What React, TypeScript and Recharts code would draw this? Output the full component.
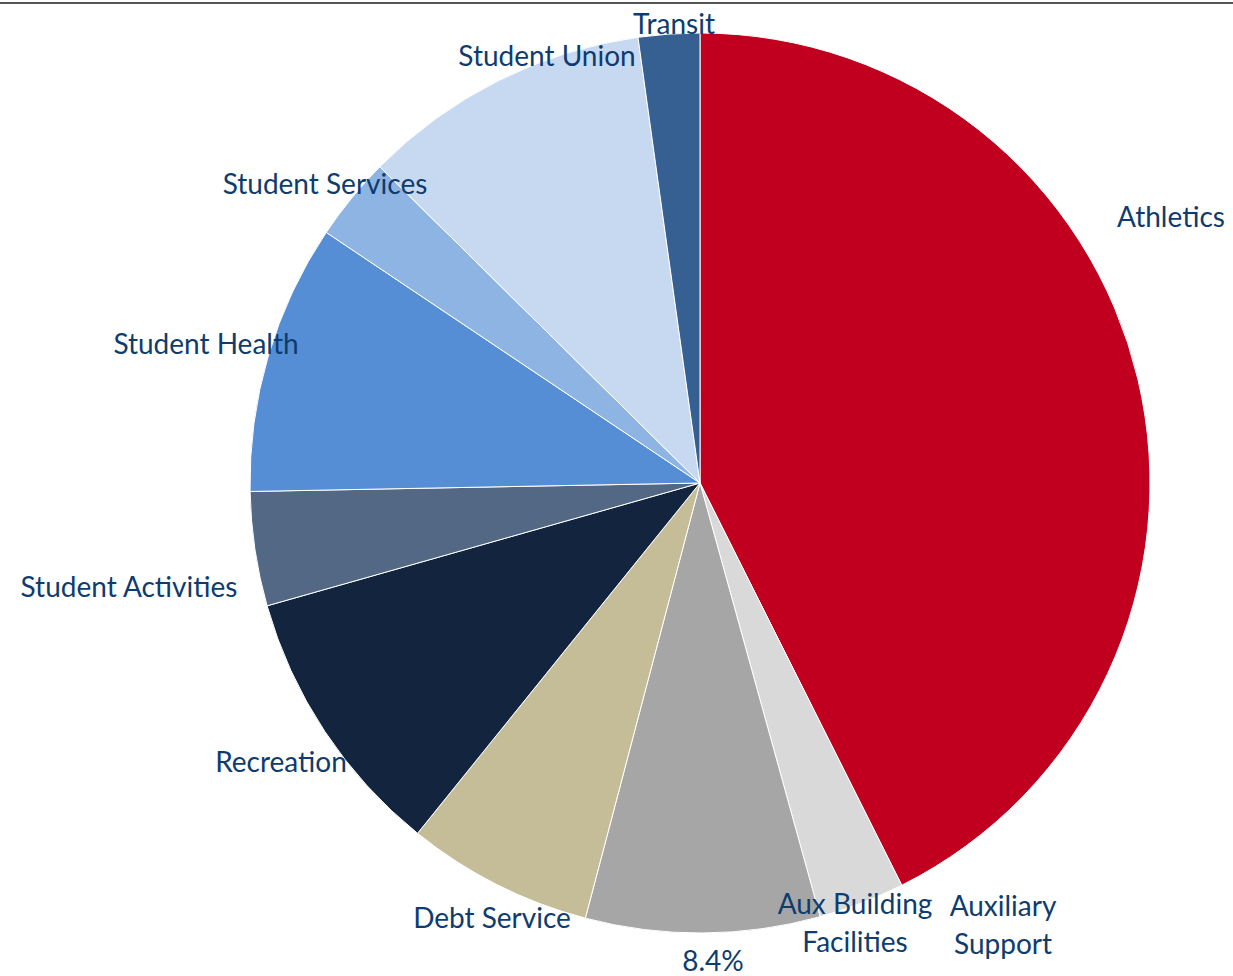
import React from "react";
import { PieChart, Pie, Cell } from "recharts";

const categories = [
  "Athletics",
  "Auxiliary Support",
  "Aux Building Facilities",
  "Debt Service",
  "Recreation",
  "Student Activities",
  "Student Health",
  "Student Services",
  "Student Union",
  "Transit",
];

// share of fees, percent
const shares = [42.6, 3.1, 8.4, 6.7, 9.8, 4.1, 9.7, 3.0, 10.4, 2.2];

// label lines, as placed in the original chart
const labelLines = [
  ["Athletics"],
  ["Auxiliary", "Support"],
  ["Aux Building", "Facilities"],
  ["Debt Service"],
  ["Recreation"],
  ["Student Activities"],
  ["Student Health"],
  ["Student Services"],
  ["Student Union"],
  ["Transit"],
];

// only this slice shows its percentage
const showPercent = [false, false, true, false, false, false, false, false, false, false];

const colors = [
  "#C0001E",
  "#D9D9D9",
  "#A6A6A6",
  "#C4BD97",
  "#12243E",
  "#536884",
  "#558ED5",
  "#8EB4E3",
  "#C6D9F1",
  "#366092",
];

const data = categories.map((name, i) => ({ name, value: shares[i] }));

const CX = 700;
const CY = 483;
const LINE_H = 38;
const LABEL_COLOR = "#0E3C6E";
const FONT = "Lato, 'Liberation Sans', sans-serif";
const FONT_SIZE = 28;

// label anchor offsets from the pie centre (manually placed labels in the source)
const labelOffsets = [
  { dx: 471, dy: -267 },
  { dx: 303, dy: 422 },
  { dx: 155, dy: 420 },
  { dx: -208, dy: 434 },
  { dx: -419, dy: 278 },
  { dx: -571, dy: 103 },
  { dx: -494, dy: -140 },
  { dx: -375, dy: -300 },
  { dx: -153, dy: -428 },
  { dx: -26, dy: -460 },
];

const renderLabel = (props: any) => {
  const { cx, cy, index, percent } = props;
  const off = labelOffsets[index];
  const lines = labelLines[index];
  const x = cx + off.dx;
  const y = cy + off.dy;
  return (
    <g key={`lbl-${index}`}>
      {lines.map((t, k) => (
        <text
          key={k}
          x={x}
          y={y + k * LINE_H}
          textAnchor="middle"
          dominantBaseline="central"
          fill={LABEL_COLOR}
          fontSize={FONT_SIZE}
          fontFamily={FONT}
        >
          {t}
        </text>
      ))}
      {showPercent[index] && (
        <text
          x={cx + 13}
          y={cy + 477}
          textAnchor="middle"
          dominantBaseline="central"
          fill={LABEL_COLOR}
          fontSize={FONT_SIZE}
          fontFamily={FONT}
        >
          {`${(percent * 100).toFixed(1)}%`}
        </text>
      )}
    </g>
  );
};

export default function App() {
  return (
    <div
      style={{
        position: "absolute",
        left: 0,
        top: 0,
        width: 1233,
        height: 976,
        background: "#fff",
        overflow: "hidden",
      }}
    >
      <div
        style={{
          position: "absolute",
          left: 0,
          top: 2,
          width: 1233,
          height: 2,
          background: "#555",
        }}
      />
      <PieChart width={1233} height={976} margin={{ top: 0, right: 0, bottom: 0, left: 0 }}>
        <Pie
          data={data}
          dataKey="value"
          nameKey="name"
          cx={CX}
          cy={CY}
          outerRadius={450}
          startAngle={90}
          endAngle={-270}
          stroke="#fff"
          strokeWidth={1}
          labelLine={false}
          label={renderLabel}
          isAnimationActive={false}
        >
          {data.map((d, i) => (
            <Cell key={d.name} fill={colors[i]} />
          ))}
        </Pie>
      </PieChart>
    </div>
  );
}
